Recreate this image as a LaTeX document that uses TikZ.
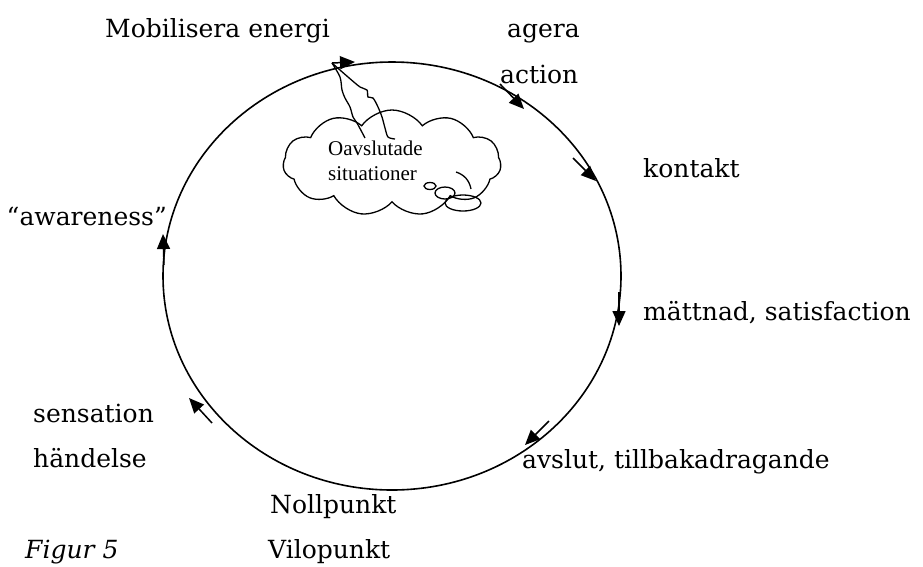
\documentclass[tikz,border=0pt]{standalone}
\usepackage{fontspec}
\setmainfont{DejaVu Serif}
\newfontfamily\cloudfont{Liberation Serif}
\usetikzlibrary{positioning}
\usetikzlibrary{arrows.meta}
\usetikzlibrary{shapes.symbols}

\tikzset{
	cyc/.style={line width=1.6pt},
	pil/.style={line width=1.5pt,-{Triangle[length=15pt,width=13pt]}},
	lbl/.style={anchor=base west,inner sep=0pt},
	tankar/.style={line width=1.3pt},
}

\begin{document}
\begin{tikzpicture}[x=1pt,y=-1pt,font=\fontsize{25}{29}\selectfont]
	\useasboundingbox (0,0) rectangle (923,566);

	%Nodes
	\node[lbl] 		(mob) 	at (105,37) 	{Mobilisera energi};
	\node[lbl] 		(agera) 	at (507,37) 	{agera};
	\node[lbl] 		(action) 	at (500,83) 	{action};
	\node[lbl] 		(kont) 	at (643,177) 	{kontakt};
	\node[lbl] 		(matt) 	at (643,320) 	{mättnad, satisfaction};
	\node[lbl] 		(avsl) 	at (522,468) 	{avslut, tillbakadragande};
	\node[lbl] 		(noll) 	at (270,513) 	{Nollpunkt};
	\node[lbl] 		(vilo) 	at (268,558) 	{Vilopunkt};
	\node[lbl] 		(fig) 	at (25,558) 	{\itshape Figur 5};
	\node[lbl,anchor=base east] (aware) at (167,225) {“awareness”};
	\node[lbl] 		(sens) 	at (33,422) 	{sensation};
	\node[lbl] 		(hand) 	at (33,467) 	{händelse};

	%Cloud
	\node[cloud,draw,tankar,cloud puffs=11,cloud puff arc=110,minimum width=218pt,minimum height=106pt,inner sep=0pt] (moln) at (392,163) {};
	\node[lbl,font=\cloudfont\fontsize{21}{24}\selectfont] (oavsl) at (328,155) {Oavslutade};
	\node[lbl,font=\cloudfont\fontsize{21}{24}\selectfont] (sit) at (328,180) {situationer};
	\draw[tankar] (456,172) to[bend left=30] (471,189);
	\draw[tankar] (430,186) ellipse [x radius=6,y radius=3.5];
	\draw[tankar] (445,193) ellipse [x radius=10,y radius=6];
	\draw[tankar] (463,203) ellipse [x radius=18,y radius=8];

	%Circle
	\draw[cyc] (392,276) ellipse [x radius=229,y radius=214];

	%Arrows
	\coordinate (a1s) at (332,63);
	\coordinate (a1e) at (355,62);
	\coordinate (a2s) at (500,84);
	\coordinate (a2e) at (524,109);
	\coordinate (a3s) at (573,158);
	\coordinate (a3e) at (596,181);
	\coordinate (a4s) at (619,292);
	\coordinate (a4e) at (619,326);
	\coordinate (a5s) at (549,421);
	\coordinate (a5e) at (525,445);
	\coordinate (a6s) at (212,423);
	\coordinate (a6e) at (189,398);
	\coordinate (a7s) at (164,265);
	\coordinate (a7e) at (163,234);
	\draw[pil] (a1s) -- (a1e);
	\draw[pil] (a2s) -- (a2e);
	\draw[pil] (a3s) -- (a3e);
	\draw[pil] (a4s) -- (a4e);
	\draw[pil] (a5s) -- (a5e);
	\draw[pil] (a6s) -- (a6e);
	\draw[pil] (a7s) -- (a7e);

	%Lines to cloud
	\draw[tankar] plot[smooth] coordinates {(a1s) (340,77) (342,90) (345,98) (350,107) (353,117) (357,123) (365,138)};
	\draw[tankar] plot[smooth] coordinates {(a1s) (348,77) (360,87) (367,90) (368,97) (373,98) (378,107) (382,117) (385,128) (388,137) (395,139)};
\end{tikzpicture}
\end{document}
